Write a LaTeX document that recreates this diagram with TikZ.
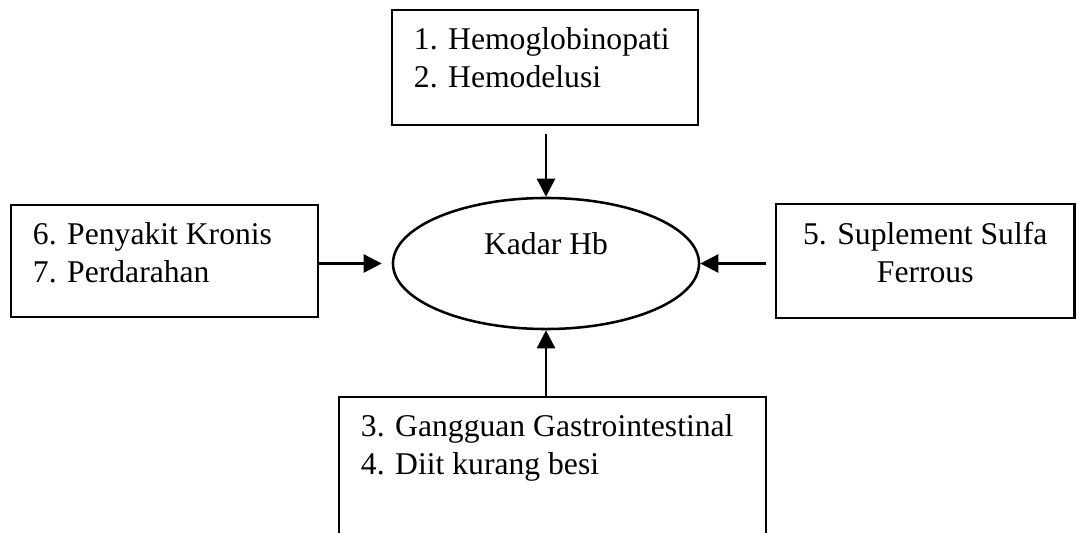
\documentclass[tikz,border=0pt]{standalone}
\usepackage{fontspec}
\setmainfont{Liberation Serif}
\usepackage{tikz}
\usetikzlibrary{shapes.geometric,arrows.meta}
\newcommand{\boxlines}[3]{\parbox[c][#2][t]{#1}{#3}}

\begin{document}
\begin{tikzpicture}[x=0.025cm, y=-0.025cm,
  box/.style={
    draw, rectangle, line width=1.8pt, inner xsep=0.55cm, inner ysep=0.45cm
  },
  hb/.style={
    draw, ellipse, line width=1.8pt, minimum width=7.65cm, minimum height=3.275cm,
    inner sep=0pt, text depth=0.975cm
  },
  arr/.style={-{Triangle[length=0.45cm, width=0.45cm]}, line width=1.8pt},
  every node/.style={font=\fontsize{22.5pt}{27pt}\selectfont}
]
\clip (0,0) rectangle (1077,532);
\node[box] (penyebab1) at (545,67.5)
  {\boxlines{6.55cm}{1.975cm}{1. Hemoglobinopati\\2. Hemodelusi}};
\node[box] (penyebab2) at (164.5,261)
  {\boxlines{6.575cm}{1.9cm}{6. Penyakit Kronis\\7. Perdarahan}};
\node[box] (penyebab3) at (925.25,261)
  {\boxlines{6.3625cm}{1.95cm}{\centering 5. Suplement Sulfa\\Ferrous}};
\node[box] (penyebab4) at (552.5,472)
  {\boxlines{9.575cm}{2.85cm}{3. Gangguan Gastrointestinal\\4. Diit kurang besi}};
\node[hb] (kadar) at (546,263.5) {Kadar Hb};
\draw[arr, shorten <=0.2cm] (kadar.north |- penyebab1.south) -- (kadar.north);
\draw[arr, shorten >=0.25cm] (penyebab2.east |- kadar.west) -- (kadar.west);
\draw[arr, shorten <=0.225cm] (penyebab3.west |- kadar.east) -- (kadar.east);
\draw[arr] (kadar.south |- penyebab4.north) -- (kadar.south);
\end{tikzpicture}
\end{document}
